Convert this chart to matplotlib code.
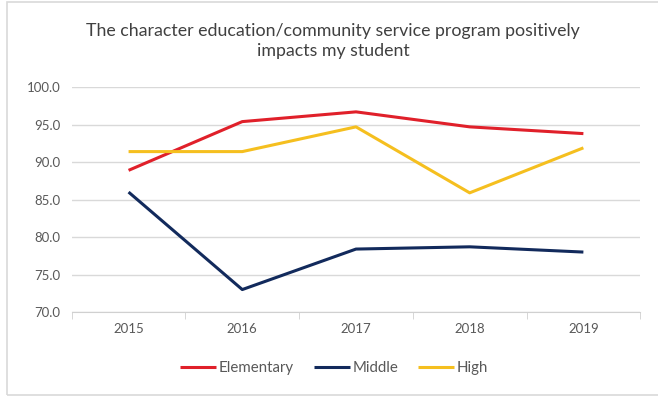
import matplotlib.pyplot as plt
from matplotlib.patches import Rectangle

years = ['2015', '2016', '2017', '2018', '2019']
elementary = [88.9, 95.4, 96.7, 94.7, 93.8]
middle = [86.0, 73.0, 78.4, 78.7, 78.0]
high = [91.4, 91.4, 94.7, 85.9, 91.9]

plt.rcParams['font.family'] = ['Lato', 'DejaVu Sans']

fig = plt.figure(figsize=(6.58, 3.96), dpi=100)
ax = fig.add_axes([0.109, 0.212, 0.864, 0.568])

# outer chart frame
fig.patches.append(Rectangle((7 / 658, 1 / 396), 1.0, 393 / 396, transform=fig.transFigure,
                             fill=False, edgecolor='#d9d9d9', linewidth=1.2))

x = range(len(years))
ax.plot(x, elementary, color='#e0202a', linewidth=2.2, label='Elementary', solid_capstyle='butt')
ax.plot(x, middle, color='#122a5c', linewidth=2.2, label='Middle', solid_capstyle='butt')
ax.plot(x, high, color='#f5bf1f', linewidth=2.2, label='High', solid_capstyle='butt')

ax.set_xlim(-0.5, 4.5)
ax.set_ylim(70, 100)
ax.set_yticks([70, 75, 80, 85, 90, 95, 100])
ax.set_yticklabels(['%.1f' % v for v in [70, 75, 80, 85, 90, 95, 100]])
ax.set_xticks(list(x))
ax.set_xticklabels(years)
ax.set_xticks([i - 0.5 for i in range(len(years) + 1)], minor=True)

ax.grid(axis='y', color='#d9d9d9', linewidth=1)
ax.set_axisbelow(True)
for s in ['top', 'right', 'left']:
    ax.spines[s].set_visible(False)
ax.spines['bottom'].set_color('#d0d0d0')
ax.tick_params(axis='y', length=0, labelsize=9.5, labelcolor='#595959', pad=8)
ax.tick_params(axis='x', which='major', length=0, labelsize=9.5, labelcolor='#595959', pad=8)
ax.tick_params(axis='x', which='minor', length=5, color='#d0d0d0')

fig.text(0.506, 0.897, 'The character education/community service program positively\nimpacts my student',
         ha='center', va='center', fontsize=12.8, color='#404040', linespacing=1.35)

fig.legend(loc='center', bbox_to_anchor=(0.508, 0.07), ncol=3, frameon=False,
           fontsize=10.8, labelcolor='#595959', handlelength=2.4, handletextpad=0.2, columnspacing=1.3)

fig.savefig('out.png', dpi=100)
